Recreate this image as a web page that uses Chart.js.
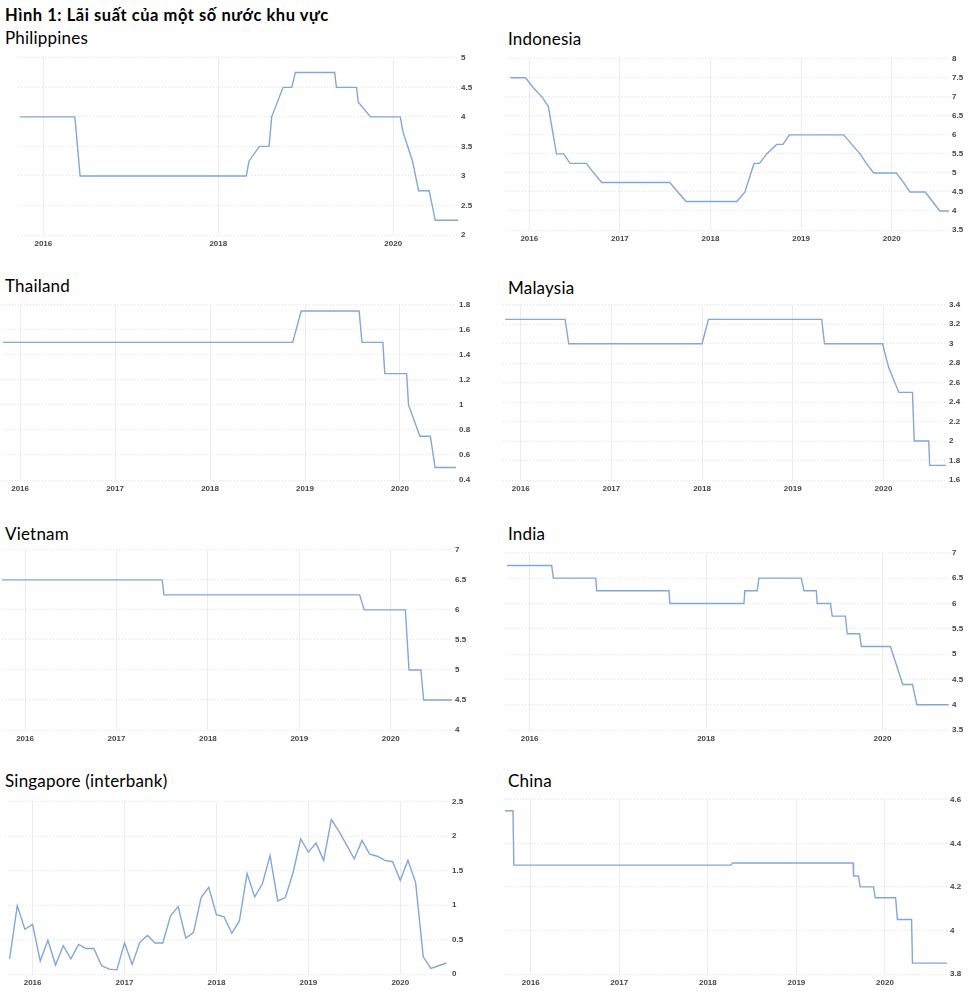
<!DOCTYPE html>
<html>
<head>
<meta charset="utf-8">
<script src="https://cdn.jsdelivr.net/npm/chart.js@4.4.0/dist/chart.umd.min.js"></script>
<style>
  body { margin: 0; background: #fff; }
  #page { position: relative; width: 975px; height: 991px; overflow: hidden; font-family: Lato, "Noto Sans", sans-serif; color: #000; }
  .title { position: absolute; left: 5px; top: 7px; font-size: 16.5px; letter-spacing: 0.55px; font-weight: bold; line-height: 16px; white-space: nowrap; }
  .name { position: absolute; font-size: 17px; letter-spacing: 0.2px; line-height: 17px; white-space: nowrap; }
  canvas { position: absolute; }
</style>
</head>
<body>
<div id="page">
  <div class="title">Hình 1: Lãi suất của một số nước khu vực</div>
</div>
<script>
// decimal years of each rate change, rates in %
const philippinesDates = [2015.73, 2016.36, 2016.42, 2018.32, 2018.35, 2018.47, 2018.58, 2018.61, 2018.74, 2018.84, 2018.88, 2019.33, 2019.35, 2019.58, 2019.60, 2019.74, 2020.08, 2020.11, 2020.22, 2020.29, 2020.41, 2020.48, 2020.74];
const philippinesRates = [4, 4, 3, 3, 3.25, 3.5, 3.5, 4, 4.5, 4.5, 4.75, 4.75, 4.5, 4.5, 4.25, 4, 4, 3.75, 3.25, 2.75, 2.75, 2.25, 2.25];

const indonesiaDates = [2015.79, 2015.96, 2016.04, 2016.14, 2016.21, 2016.30, 2016.38, 2016.45, 2016.63, 2016.71, 2016.80, 2017.55, 2017.64, 2017.73, 2018.29, 2018.38, 2018.48, 2018.54, 2018.62, 2018.73, 2018.80, 2018.87, 2019.47, 2019.56, 2019.65, 2019.72, 2019.80, 2020.05, 2020.13, 2020.20, 2020.37, 2020.45, 2020.53, 2020.64];
const indonesiaRates = [7.5, 7.5, 7.25, 7.0, 6.75, 5.5, 5.5, 5.25, 5.25, 5.0, 4.75, 4.75, 4.5, 4.25, 4.25, 4.5, 5.25, 5.25, 5.5, 5.75, 5.75, 6.0, 6.0, 5.75, 5.5, 5.25, 5.0, 5.0, 4.75, 4.5, 4.5, 4.25, 4.0, 4.0];

const thailandDates = [2015.82, 2018.87, 2018.96, 2019.57, 2019.60, 2019.82, 2019.84, 2020.07, 2020.09, 2020.21, 2020.32, 2020.37, 2020.59];
const thailandRates = [1.5, 1.5, 1.75, 1.75, 1.5, 1.5, 1.25, 1.25, 1.0, 0.75, 0.75, 0.5, 0.5];

const malaysiaDates = [2015.83, 2016.49, 2016.53, 2018.00, 2018.07, 2019.32, 2019.35, 2019.99, 2020.06, 2020.17, 2020.32, 2020.34, 2020.50, 2020.51, 2020.69];
const malaysiaRates = [3.25, 3.25, 3.0, 3.0, 3.25, 3.25, 3.0, 3.0, 2.75, 2.5, 2.5, 2.0, 2.0, 1.75, 1.75];

const vietnamDates = [2015.74, 2017.50, 2017.52, 2019.66, 2019.71, 2020.16, 2020.20, 2020.33, 2020.36, 2020.67];
const vietnamRates = [6.5, 6.5, 6.25, 6.25, 6.0, 6.0, 5.0, 5.0, 4.5, 4.5];

const indiaDates = [2015.74, 2016.25, 2016.27, 2016.75, 2016.76, 2017.58, 2017.59, 2018.43, 2018.44, 2018.58, 2018.60, 2019.08, 2019.11, 2019.25, 2019.26, 2019.41, 2019.43, 2019.58, 2019.60, 2019.74, 2019.76, 2020.09, 2020.23, 2020.34, 2020.39, 2020.75];
const indiaRates = [6.75, 6.75, 6.5, 6.5, 6.25, 6.25, 6.0, 6.0, 6.25, 6.25, 6.5, 6.5, 6.25, 6.25, 6.0, 6.0, 5.75, 5.75, 5.4, 5.4, 5.15, 5.15, 4.4, 4.4, 4.0, 4.0];

const singaporeMonths = [
  '2015-10', '2015-11', '2015-12',
  '2016-01', '2016-02', '2016-03', '2016-04', '2016-05', '2016-06', '2016-07', '2016-08', '2016-09', '2016-10', '2016-11', '2016-12',
  '2017-01', '2017-02', '2017-03', '2017-04', '2017-05', '2017-06', '2017-07', '2017-08', '2017-09', '2017-10', '2017-11', '2017-12',
  '2018-01', '2018-02', '2018-03', '2018-04', '2018-05', '2018-06', '2018-07', '2018-08', '2018-09', '2018-10', '2018-11', '2018-12',
  '2019-01', '2019-02', '2019-03', '2019-04', '2019-05', '2019-06', '2019-07', '2019-08', '2019-09', '2019-10', '2019-11', '2019-12',
  '2020-01', '2020-02', '2020-03', '2020-04', '2020-05', '2020-06', '2020-07'
];
const singaporeRates = [
  0.22, 0.99, 0.65,
  0.72, 0.19, 0.49, 0.13, 0.41, 0.22, 0.43, 0.37, 0.37, 0.12, 0.07, 0.06,
  0.45, 0.14, 0.46, 0.56, 0.45, 0.45, 0.84, 0.98, 0.52, 0.60, 1.11, 1.26,
  0.86, 0.83, 0.59, 0.77, 1.46, 1.12, 1.31, 1.72, 1.06, 1.11, 1.47, 1.96,
  1.77, 1.90, 1.65, 2.24, 2.07, 1.87, 1.67, 1.94, 1.74, 1.71, 1.65, 1.63,
  1.36, 1.65, 1.33, 0.25, 0.08, 0.12, 0.16
];

const chinaDates = [2015.71, 2015.80, 2015.81, 2018.26, 2018.28, 2019.64, 2019.645, 2019.70, 2019.72, 2019.87, 2019.89, 2020.12, 2020.14, 2020.30, 2020.31, 2020.70];
const chinaRates = [4.55, 4.55, 4.3, 4.3, 4.31, 4.31, 4.25, 4.25, 4.2, 4.2, 4.15, 4.15, 4.05, 4.05, 3.85, 3.85];

// tick labels
const yearsAll = [2016, 2017, 2018, 2019, 2020];
const yearsEven = [2016, 2018, 2020];
const philippinesTicks = [2, 2.5, 3, 3.5, 4, 4.5, 5];
const indonesiaTicks = [3.5, 4, 4.5, 5, 5.5, 6, 6.5, 7, 7.5, 8];
const thailandTicks = [0.4, 0.6, 0.8, 1, 1.2, 1.4, 1.6, 1.8];
const malaysiaTicks = [1.6, 1.8, 2, 2.2, 2.4, 2.6, 2.8, 3, 3.2, 3.4];
const vietnamTicks = [4, 4.5, 5, 5.5, 6, 6.5, 7];
const indiaTicks = [3.5, 4, 4.5, 5, 5.5, 6, 6.5, 7];
const singaporeTicks = [0, 0.5, 1, 1.5, 2, 2.5];
const chinaTicks = [3.8, 4, 4.2, 4.4, 4.6];

function monthToYear(m) {
  const [y, mo] = m.split('-').map(Number);
  return y + (mo - 1) / 12;
}

// plot boxes in page pixels: l, r, t, b; x range; title position
const panels = [
  { name: 'Philippines', nx: 5, ny: 29, l: 18, r: 458, t: 56, b: 235, xmin: 2015.71, xmax: 2020.74, years: yearsEven, ticks: philippinesTicks, dates: philippinesDates, rates: philippinesRates },
  { name: 'Indonesia', nx: 508, ny: 30, l: 507, r: 949, t: 57, b: 230, xmin: 2015.754, xmax: 2020.632, years: yearsAll, ticks: indonesiaTicks, dates: indonesiaDates, rates: indonesiaRates },
  { name: 'Thailand', nx: 5, ny: 277, l: 3, r: 456, t: 303, b: 480, xmin: 2015.82, xmax: 2020.59, years: yearsAll, ticks: thailandTicks, dates: thailandDates, rates: thailandRates },
  { name: 'Malaysia', nx: 508, ny: 279, l: 503, r: 946, t: 303, b: 480, xmin: 2015.805, xmax: 2020.69, years: yearsAll, ticks: malaysiaTicks, dates: malaysiaDates, rates: malaysiaRates },
  { name: 'Vietnam', nx: 5, ny: 525, l: 2, r: 452, t: 548, b: 730, xmin: 2015.748, xmax: 2020.67, years: yearsAll, ticks: vietnamTicks, dates: vietnamDates, rates: vietnamRates },
  { name: 'India', nx: 508, ny: 525, l: 507, r: 949, t: 551, b: 730, xmin: 2015.744, xmax: 2020.754, years: yearsEven, ticks: indiaTicks, dates: indiaDates, rates: indiaRates },
  { name: 'Singapore (interbank)', nx: 5, ny: 772, l: 5, r: 449, t: 800, b: 974, xmin: 2015.70, xmax: 2020.53, years: yearsAll, ticks: singaporeTicks, dates: singaporeMonths.map(monthToYear), rates: singaporeRates },
  { name: 'China', nx: 508, ny: 772, l: 505, r: 947, t: 798, b: 974, xmin: 2015.71, xmax: 2020.70, years: yearsAll, ticks: chinaTicks, dates: chinaDates, rates: chinaRates }
];

const AXIS_W = 26;
const AXIS_H = 16;
const PAD_TOP = 6;
const tickFont = { family: '"Liberation Sans", Arial, sans-serif', size: 8, weight: 'bold' };
const page = document.getElementById('page');

panels.forEach(p => {
  const name = document.createElement('div');
  name.className = 'name';
  name.style.left = p.nx + 'px';
  name.style.top = p.ny + 'px';
  name.textContent = p.name;
  page.appendChild(name);

  const canvas = document.createElement('canvas');
  canvas.width = p.r - p.l + AXIS_W;
  canvas.height = p.b - p.t + PAD_TOP + AXIS_H;
  canvas.style.left = p.l + 'px';
  canvas.style.top = (p.t - PAD_TOP) + 'px';
  page.appendChild(canvas);

  new Chart(canvas, {
    type: 'line',
    data: {
      datasets: [{
        data: p.dates.map((d, i) => ({ x: d, y: p.rates[i] })),
        borderColor: '#80a8d8',
        borderWidth: 1.4,
        pointRadius: 0,
        tension: 0,
        fill: false
      }]
    },
    options: {
      responsive: false,
      animation: false,
      layout: { padding: { top: PAD_TOP, left: 0, right: 0, bottom: 0 } },
      plugins: { legend: { display: false }, tooltip: { enabled: false } },
      scales: {
        x: {
          type: 'linear',
          min: p.xmin,
          max: p.xmax,
          afterBuildTicks: s => { s.ticks = p.years.map(v => ({ value: v })); },
          afterFit: s => { s.height = AXIS_H; },
          grid: { color: '#ececec', drawTicks: false },
          border: { display: false },
          ticks: { padding: 4, font: tickFont, color: '#444', maxRotation: 0, autoSkip: false, callback: v => String(v) }
        },
        y: {
          position: 'right',
          min: p.ticks[0],
          max: p.ticks[p.ticks.length - 1],
          afterBuildTicks: s => { s.ticks = p.ticks.map(v => ({ value: v })); },
          afterFit: s => { s.width = AXIS_W; },
          grid: { color: '#e2e2e2', drawTicks: false },
          border: { display: false, dash: [1, 2] },
          ticks: { padding: 3, font: tickFont, color: '#444', autoSkip: false, callback: v => String(v) }
        }
      }
    }
  });
});
</script>
</body>
</html>
